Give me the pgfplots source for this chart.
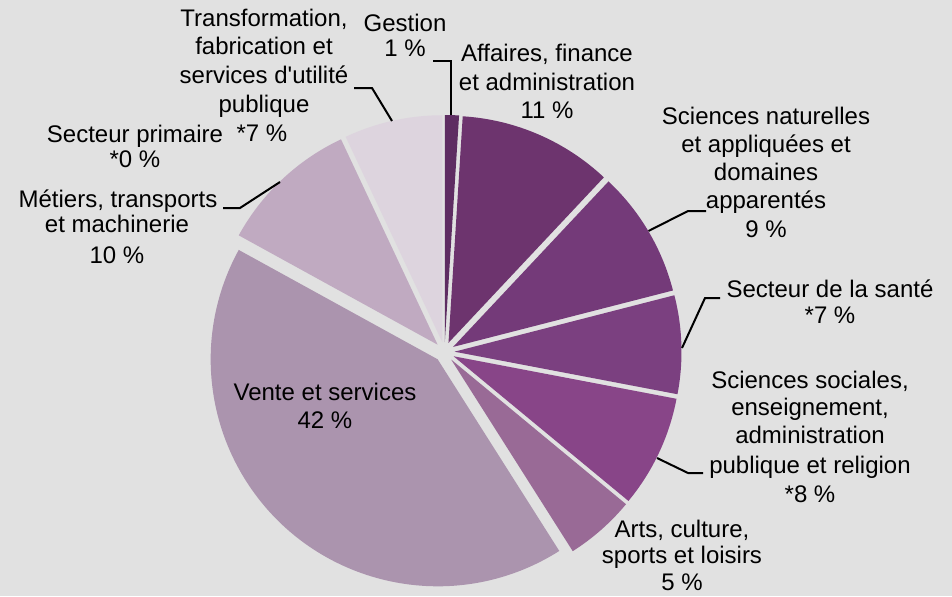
\documentclass[border=0pt]{standalone}
\usepackage{pgfplots}
\pgfplotsset{compat=1.18}
\usepackage{pgfplotstable}
\usepackage{fontspec}
\setmainfont{Liberation Sans}

\definecolor{bg}{RGB}{225,225,225}
\definecolor{cGes}{RGB}{94,45,98}
\definecolor{cAff}{RGB}{109,52,110}
\definecolor{cNat}{RGB}{116,58,121}
\definecolor{cSan}{RGB}{123,64,128}
\definecolor{cSoc}{RGB}{136,69,136}
\definecolor{cArt}{RGB}{153,106,150}
\definecolor{cVen}{RGB}{171,148,174}
\definecolor{cPri}{RGB}{180,160,182}
\definecolor{cMet}{RGB}{192,170,193}
\definecolor{cTra}{RGB}{221,212,222}

% share of each sector (%), clockwise from 12 o'clock
\pgfplotstableread{
sector value color
Gestion 1 cGes
Affaires 11 cAff
SciencesNaturelles 9 cNat
Sante 7 cSan
SciencesSociales 8 cSoc
Arts 5 cArt
Vente 42 cVen
Primaire 0 cPri
Metiers 10 cMet
Transformation 7 cTra
}\pietable

\def\cx{444.5}
\def\cy{244}
\def\rr{227}
\def\rpt{113.5}
\def\ex{10}

\begin{document}
\begin{tikzpicture}
\begin{axis}[
  x=0.5pt, y=0.5pt,
  xmin=0, xmax=952, ymin=0, ymax=596,
  hide axis, clip=false, scale only axis,
]
\fill[bg] (axis cs:0,0) rectangle (axis cs:952,596);

\pgfplotstablegetrowsof{\pietable}
\pgfmathtruncatemacro\nrows{\pgfplotsretval-1}
\def\cum{0}
\pgfplotsforeachungrouped \i in {0,...,\nrows}{%
  \pgfplotstablegetelem{\i}{value}\of\pietable \let\val\pgfplotsretval
  \pgfplotstablegetelem{\i}{color}\of\pietable \let\col\pgfplotsretval
  \pgfmathsetmacro\ta{90-3.6*\cum}%
  \pgfmathsetmacro\tb{90-3.6*(\cum+\val)}%
  \pgfmathsetmacro\ph{(\ta+\tb)/2}%
  \pgfmathsetmacro\ax{\cx+\ex*cos(\ph)}%
  \pgfmathsetmacro\ay{\cy+\ex*sin(\ph)}%
  \pgfmathsetmacro\sx{\ax+\rr*cos(\ta)}%
  \pgfmathsetmacro\sy{\ay+\rr*sin(\ta)}%
  \ifdim\val pt>0pt
    \edef\temp{\noexpand\fill[\col] (axis cs:\ax,\ay) -- (axis cs:\sx,\sy) arc[start angle=\ta, end angle=\tb, radius=\rpt pt] -- cycle;}%
    \temp
  \fi
  \pgfmathsetmacro\cum{\cum+\val}%
}

% leader lines
\draw[line width=1pt] (axis cs:433,535) -- (axis cs:450.5,535) -- (axis cs:450.5,481);
\draw[line width=1pt] (axis cs:354,508) -- (axis cs:372,508) -- (axis cs:392,475);
\draw[line width=1pt] (axis cs:648.5,365) -- (axis cs:688,385) -- (axis cs:706,385);
\draw[line width=1pt] (axis cs:682,248) -- (axis cs:705,298) -- (axis cs:720,298);
\draw[line width=1pt] (axis cs:657,138) -- (axis cs:688,123) -- (axis cs:703,123);
\draw[line width=1pt] (axis cs:223,388) -- (axis cs:240,388) -- (axis cs:280,414);

% labels
\tikzset{lab/.style={anchor=base, inner sep=0pt, font=\fontsize{12pt}{14pt}\selectfont}}
\node[lab] at (axis cs:405,564) {Gestion};
\node[lab] at (axis cs:405,539) {1 \%};

\node[lab] at (axis cs:264,569) {Transformation,};
\node[lab] at (axis cs:264,541) {fabrication et};
\node[lab] at (axis cs:264,513) {services d\textquotesingle utilité};
\node[lab] at (axis cs:264,484) {publique};
\node[lab] at (axis cs:262,455) {*7 \%};

\node[lab] at (axis cs:547,534) {Affaires, finance};
\node[lab] at (axis cs:547,506) {et administration};
\node[lab] at (axis cs:547,478) {11 \%};

\node[lab] at (axis cs:766,472) {Sciences naturelles};
\node[lab] at (axis cs:766,444) {et appliquées et};
\node[lab] at (axis cs:766,416) {domaines};
\node[lab] at (axis cs:766,388) {apparentés};
\node[lab] at (axis cs:766,359) {9 \%};

\node[lab] at (axis cs:830,299) {Secteur de la santé};
\node[lab] at (axis cs:830,273) {*7 \%};

\node[lab] at (axis cs:810,208) {Sciences sociales,};
\node[lab] at (axis cs:810,181) {enseignement,};
\node[lab] at (axis cs:810,153) {administration};
\node[lab] at (axis cs:810,123) {publique et religion};
\node[lab] at (axis cs:810,94) {*8 \%};

\node[lab] at (axis cs:682,59) {Arts, culture,};
\node[lab] at (axis cs:682,33) {sports et loisirs};
\node[lab] at (axis cs:682,6) {5 \%};

\node[lab] at (axis cs:325,196) {Vente et services};
\node[lab] at (axis cs:325,168) {42 \%};

\node[lab] at (axis cs:135,454) {Secteur primaire};
\node[lab] at (axis cs:135,429) {*0 \%};

\node[lab] at (axis cs:118,389) {Métiers, transports};
\node[lab] at (axis cs:117,364) {et machinerie};
\node[lab] at (axis cs:117,333) {10 \%};
\end{axis}
\pgfresetboundingbox
\useasboundingbox (current axis.south west) rectangle (current axis.north east);
\end{tikzpicture}
\end{document}
